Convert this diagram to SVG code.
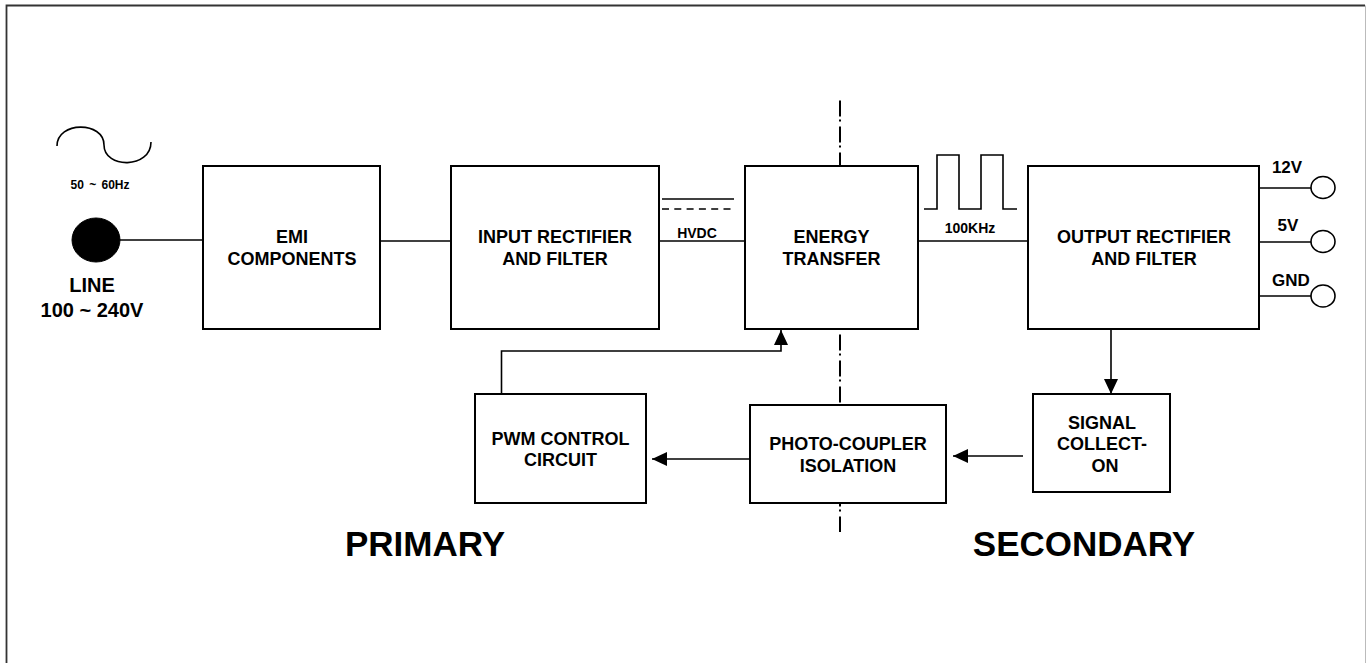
<svg xmlns="http://www.w3.org/2000/svg" width="1366" height="663" viewBox="0 0 1366 663">
<defs>
<style>
.box{fill:#fff;stroke:#000;stroke-width:2}
.t{font-family:"Liberation Sans",Arial,sans-serif;font-weight:bold;fill:#000;text-anchor:middle}
.bt{font-size:18px}
.ln{fill:none;stroke:#000;stroke-width:1.6}
.term{fill:#fff;stroke:#000;stroke-width:1.6}
</style>
<marker id="ah" markerUnits="userSpaceOnUse" markerWidth="15" markerHeight="14" refX="15" refY="7" orient="auto">
<path d="M0,0 L15,7 L0,14 Z" fill="#000"/>
</marker>
</defs>
<rect width="1366" height="663" fill="#fff"/>
<g id="frame">
<path d="M6.5,663 V5.5 H1365" fill="none" stroke="#333" stroke-width="1.8"/>
<path d="M1365.5,5.5 V663" fill="none" stroke="#bbb" stroke-width="1"/>
</g>
<g id="isolation-line">
<path d="M840,100.5 V532" fill="none" stroke="#000" stroke-width="2" stroke-dasharray="16 3 2 5"/>
</g>
<g id="symbols">
<path class="ln" d="M57,146 C57,121 104,121 104,145 C104,169 151,169 151,142"/>
<text class="t" x="100" y="189" font-size="12" word-spacing="2">50 ~ 60Hz</text>
<path class="ln" d="M662,199 H734"/>
<path class="ln" d="M662,209 H731" stroke-dasharray="7 5.3"/>
<text class="t" x="697" y="238" font-size="14">HVDC</text>
<path class="ln" d="M924,209 H937 V155 H959 V209 H981 V155 H1003 V209 H1017"/>
<text class="t" x="970" y="233" font-size="14">100KHz</text>
</g>
<g id="connectors">
<path class="ln" d="M120,240 H203"/>
<path class="ln" d="M380,241 H451"/>
<path class="ln" d="M659,241 H745"/>
<path class="ln" d="M918,241 H1028"/>
<path class="ln" d="M1259,188 H1311"/>
<path class="ln" d="M1259,242 H1311"/>
<path class="ln" d="M1259,296 H1311"/>
<path class="ln" d="M1111,329 V394" marker-end="url(#ah)"/>
<path class="ln" d="M1023,456 H953" marker-end="url(#ah)"/>
<path class="ln" d="M749,459 H652" marker-end="url(#ah)"/>
<path class="ln" d="M501.5,394 V351 H781 V330" marker-end="url(#ah)"/>
</g>
<g id="line-source">
<ellipse cx="96" cy="240" rx="24" ry="22" fill="#000" stroke="#000" stroke-width="1"/>
<text class="t" x="92" y="292" font-size="20">LINE</text>
<text class="t" x="92" y="317" font-size="20">100 ~ 240V</text>
</g>
<g id="emi">
<rect class="box" x="203" y="166" width="177" height="163"/>
<text class="t bt" x="292" y="243">EMI</text>
<text class="t bt" x="292" y="264.5">COMPONENTS</text>
</g>
<g id="input-rectifier">
<rect class="box" x="451" y="166" width="208" height="163"/>
<text class="t bt" x="555" y="243">INPUT RECTIFIER</text>
<text class="t bt" x="555" y="264.5">AND FILTER</text>
</g>
<g id="energy-transfer">
<rect class="box" x="745" y="166" width="173" height="163"/>
<text class="t bt" x="831.5" y="243">ENERGY</text>
<text class="t bt" x="831.5" y="264.5">TRANSFER</text>
</g>
<g id="output-rectifier">
<rect class="box" x="1028" y="166" width="231" height="163"/>
<text class="t bt" x="1144" y="243">OUTPUT RECTIFIER</text>
<text class="t bt" x="1144" y="264.5">AND FILTER</text>
</g>
<g id="terminals">
<ellipse class="term" cx="1323" cy="187.5" rx="12" ry="11"/>
<ellipse class="term" cx="1323" cy="241.5" rx="12" ry="11"/>
<ellipse class="term" cx="1323" cy="296" rx="12" ry="11"/>
<text class="t" x="1287" y="173" font-size="17">12V</text>
<text class="t" x="1288" y="231" font-size="17">5V</text>
<text class="t" x="1291" y="286" font-size="17">GND</text>
</g>
<g id="signal-collection">
<rect class="box" x="1033" y="394" width="137" height="98"/>
<text class="t bt" x="1102" y="428.5">SIGNAL</text>
<text class="t bt" x="1102" y="450">COLLECT-</text>
<text class="t bt" x="1105" y="471.5">ON</text>
</g>
<g id="photo-coupler">
<rect class="box" x="750" y="405" width="196" height="98"/>
<text class="t bt" x="848" y="449.5">PHOTO-COUPLER</text>
<text class="t bt" x="848" y="471.5">ISOLATION</text>
</g>
<g id="pwm">
<rect class="box" x="475" y="394" width="171" height="109"/>
<text class="t bt" x="560.5" y="444.5">PWM CONTROL</text>
<text class="t bt" x="560.5" y="466">CIRCUIT</text>
</g>
<g id="labels">
<text class="t" x="425" y="556" font-size="35">PRIMARY</text>
<text class="t" x="1084" y="556" font-size="35">SECONDARY</text>
</g>
</svg>
